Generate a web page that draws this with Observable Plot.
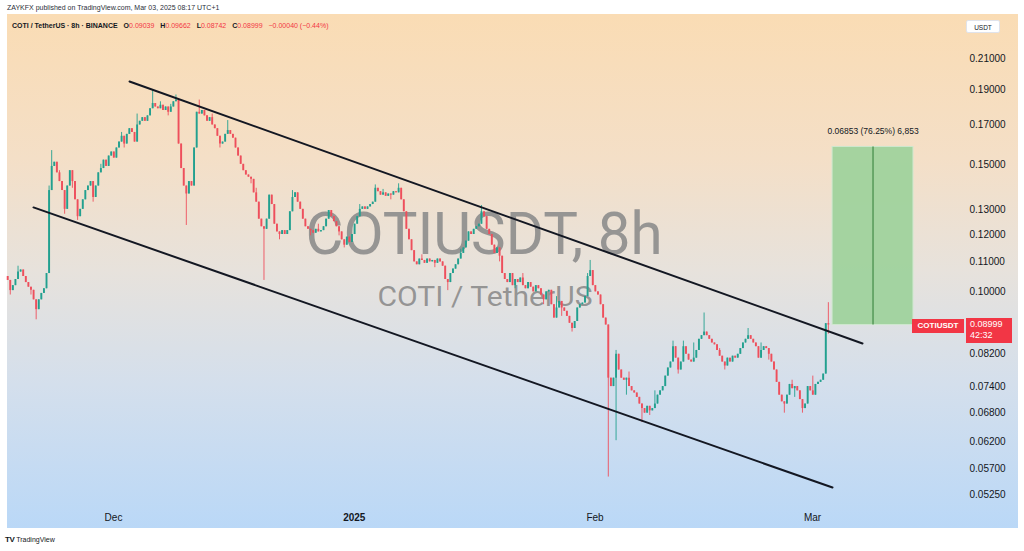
<!DOCTYPE html>
<html><head><meta charset="utf-8">
<script src="https://cdn.jsdelivr.net/npm/d3@7"></script>
<script src="https://cdn.jsdelivr.net/npm/@observablehq/plot@0.6"></script>
<style>
html,body{margin:0;padding:0;background:#fff;width:1024px;height:551px;overflow:hidden;font-family:"Liberation Sans",Arial,sans-serif;}
#wrap{position:relative;width:1024px;height:551px;}
#bg{position:absolute;left:7px;top:14px;width:1011px;height:514px;background:linear-gradient(to bottom,#fadcb4 0%,#f4dfc7 28%,#e7e2dc 50%,#d4dfec 72%,#bad8f7 100%);}
#chart{position:absolute;left:0;top:0;}
.hdr1{position:absolute;left:7px;top:4px;font-size:7px;color:#2a2e39;white-space:nowrap;}
.hdr2{position:absolute;left:12px;top:22px;font-size:7px;color:#131722;white-space:nowrap;font-weight:bold;}
.hdr2 .r{color:#f23645;font-weight:normal;}
.hdr2 .k{margin-left:4px;}
.tag{position:absolute;background:#f23645;color:#fff;font-size:8px;white-space:nowrap;}
.usdt{position:absolute;left:966px;top:20px;width:34px;height:13px;background:#fff;border:1px solid #e0e3eb;border-radius:2px;font-size:6.5px;color:#131722;text-align:center;line-height:13px;box-sizing:border-box;}
.logo{position:absolute;left:5px;top:535px;font-size:7px;color:#131722;white-space:nowrap;}
.logo b{font-size:8px;letter-spacing:-0.5px;margin-right:2px;}
</style></head>
<body><div id="wrap"><div id="bg"></div></div>
<script>
// ---- data (8h candles, COTI/USDT) ----
const firstOpen = 0.1050;
const closes = [
.1037,.1004,.1020,.1040,.1065,.1072,.1050,.1030,.1015,.1005,
.0975,.0945,.0975,.0995,.1010,.1060,.1380,.1490,.1510,.1460,
.1420,.1380,.1300,.1400,.1470,.1420,.1340,.1270,.1300,.1340,
.1380,.1400,.1420,.1350,.1400,.1460,.1480,.1520,.1490,.1540,
.1560,.1530,.1580,.1610,.1640,.1600,.1650,.1680,.1660,.1610,
.1700,.1720,.1740,.1720,.1750,.1790,.1820,.1800,.1790,.1810,
.1780,.1800,.1770,.1800,.1830,.1840,.1600,.1480,.1400,.1365,
.1420,.1400,.1580,.1770,.1760,.1780,.1750,.1720,.1740,.1700,
.1680,.1640,.1600,.1610,.1650,.1670,.1650,.1630,.1580,.1540,
.1500,.1470,.1450,.1440,.1430,.1370,.1330,.1260,.1230,.1220,
.1260,.1360,.1320,.1240,.1210,.1200,.1215,.1200,.1215,.1290,
.1350,.1370,.1330,.1300,.1260,.1230,.1220,.1215,.1205,.1220,
.1210,.1215,.1230,.1260,.1295,.1270,.1250,.1230,.1210,.1180,
.1160,.1190,.1170,.1200,.1240,.1270,.1300,.1310,.1300,.1310,
.1320,.1330,.1390,.1375,.1360,.1370,.1355,.1365,.1360,.1375,
.1370,.1390,.1340,.1290,.1220,.1180,.1140,.1100,.1090,.1110,
.1105,.1095,.1110,.1100,.1105,.1095,.1110,.1100,.1085,.1040,
.1030,.1060,.1075,.1090,.1110,.1130,.1150,.1175,.1210,.1200,
.1220,.1230,.1240,.1290,.1270,.1220,.1200,.1160,.1130,.1150,
.1120,.1060,.1040,.1030,.1060,.1020,.1040,.1030,.1045,.1020,
.1010,.1030,.1015,.1000,.1020,.1010,.0990,.0975,.1000,.1005,
.0960,.0920,.0950,.0970,.0950,.0940,.0925,.0905,.0890,.0910,
.0950,.0960,.0965,.0985,.1050,.1070,.1020,.1000,.0990,.0960,
.0920,.0900,.0760,.0740,.0760,.0820,.0780,.0760,.0755,.0760,
.0740,.0730,.0725,.0715,.0700,.0690,.0680,.0695,.0685,.0690,
.0700,.0720,.0730,.0740,.0765,.0785,.0800,.0840,.0810,.0780,
.0800,.0840,.0820,.0805,.0800,.0810,.0830,.0860,.0870,.0880,
.0870,.0860,.0850,.0845,.0830,.0815,.0800,.0790,.0810,.0800,
.0815,.0810,.0820,.0835,.0850,.0860,.0870,.0860,.0850,.0840,
.0810,.0830,.0840,.0835,.0820,.0800,.0780,.0750,.0720,.0705,
.0700,.0720,.0745,.0735,.0740,.0730,.0710,.0690,.0700,.0740,
.0730,.0720,.0745,.0750,.0755,.0770,.09039,.08999
];
// wick extremes: [candle index, price]
const wickHighs = [[4,.1085],[16,.1400],[17,.1567],[20,.1470],[36,.1500],[44,.1660],[50,.1760],[56,.1897],[59,.1830],[63,.1815],[65,.1870],[74,.1840],[79,.1760],[85,.1724],[96,.1390],[110,.1380],[120,.1240],[136,.1320],[142,.1405],[145,.1385],[151,.1410],[160,.1125],[175,.1145],[183,.1316],[199,.1060],[212,.0985],[224,.1060],[225,.1105],[235,.0830],[240,.0775],[250,.0730],[257,.0855],[261,.0855],[265,.0850],[269,.0935],[275,.0835],[286,.0890],[291,.0850],[303,.0755],[311,.0765],[317,.09662]];
const wickLows = [[1,.0990],[9,.0990],[11,.0915],[22,.1280],[25,.1390],[27,.1255],[33,.1330],[45,.1580],[62,.1750],[69,.1235],[82,.1580],[94,.1410],[99,.1037],[105,.1180],[117,.1195],[128,.1195],[130,.1150],[148,.1340],[165,.1080],[170,.1004],[190,.1100],[196,.1010],[207,.0960],[214,.0925],[218,.0880],[232,.0555],[235,.0623],[239,.0720],[245,.0660],[248,.0675],[259,.0770],[277,.0780],[294,.0805],[300,.0680],[304,.0715],[307,.0680],[317,.08742]];
const yTicks = [0.21,0.19,0.17,0.15,0.13,0.12,0.11,0.10,0.082,0.074,0.068,0.062,0.057,0.0525];
const monthTicks = [Date.UTC(2024,11,1),Date.UTC(2025,1,1),Date.UTC(2025,2,1)];
const yearTicks = [Date.UTC(2025,0,1)];
const upperLine = [{t:Date.UTC(2024,11,3,1,30),p:0.1952},{t:Date.UTC(2025,2,7,10,30),p:0.08487}];
const lowerLine = [{t:Date.UTC(2024,10,20,16,48),p:0.1308},{t:Date.UTC(2025,2,3,13,48),p:0.05368}];
const rangeBox = [{t1:Date.UTC(2025,2,3,14),t2:Date.UTC(2025,2,14,0),p1:0.08999,p2:0.15852}];
const rangeLabel = "0.06853 (76.25%) 6,853";
const lastPrice = 0.08999;

// ---- build ----
const step = 8*3600*1000;
const t0 = Date.UTC(2024,10,17,9);
const hiMap = new Map(wickHighs), loMap = new Map(wickLows);
const candles = closes.map((c,i)=>{
  const o = i===0 ? firstOpen : closes[i-1];
  const hi = hiMap.has(i) ? Math.max(hiMap.get(i),o,c) : Math.max(o,c);
  const lo = loMap.has(i) ? Math.min(loMap.get(i),o,c) : Math.min(o,c);
  return {t:new Date(t0+i*step), open:o, close:c, high:hi, low:lo, col: c>=o ? "#22a08f" : "#ee4f5c"};
});
const DAY = 864e5;
const xDomain = [new Date(Date.UTC(2024,11,1)-13.648*DAY), new Date(Date.UTC(2025,2,1)+19.313*DAY)];
const boxMid = new Date((rangeBox[0].t1+rangeBox[0].t2)/2);

const chart = Plot.plot({
  width:1024, height:551, marginLeft:7, marginRight:62, marginTop:14, marginBottom:46,
  style:{background:"transparent", fontFamily:"'Liberation Sans',Arial,sans-serif", color:"#131722"},
  x:{type:"utc", domain:xDomain, label:null},
  y:{type:"log", domain:[0.0507,0.24154], label:null},
  marks:[
    Plot.text(["COTIUSDT, 8h"], {frameAnchor:"top-left", dx:476.5, dy:239, text:d=>d, textAnchor:"middle", lineAnchor:"bottom", fontSize:60, fontFamily:"Roboto", fill:"#8a8a8a", fillOpacity:0.88}),
    Plot.text(["COTI / TetherUS"], {frameAnchor:"top-left", dx:477.5, dy:291, text:d=>d, textAnchor:"middle", lineAnchor:"bottom", fontSize:28, fontFamily:"Roboto", fill:"#8a8a8a", fillOpacity:0.88}),
    Plot.ruleX(candles, {x:"t", y1:"low", y2:"high", stroke:"col", strokeWidth:0.9}),
    Plot.ruleX(candles, {x:"t", y1:"open", y2:"close", stroke:"col", strokeWidth:1.9}),
    Plot.rect(rangeBox, {x1:d=>new Date(d.t1), x2:d=>new Date(d.t2), y1:"p1", y2:"p2", fill:"#9dd19b", fillOpacity:0.92, stroke:"#cfe8cf", strokeWidth:1}),
    Plot.ruleX([boxMid], {x:d=>d, y1:rangeBox[0].p1, y2:rangeBox[0].p2, stroke:"#2f7d34", strokeWidth:1}),
    Plot.text([rangeLabel], {x:boxMid, y:0.1665, text:d=>d, fontSize:8.5, fill:"#131722"}),
    Plot.line(upperLine, {x:d=>new Date(d.t), y:"p", stroke:"#131722", strokeWidth:2}),
    Plot.line(lowerLine, {x:d=>new Date(d.t), y:"p", stroke:"#131722", strokeWidth:2}),
    Plot.axisY(yTicks, {anchor:"right", tickSize:0, tickPadding:7, textAnchor:"start", tickFormat:d=>d.toFixed(5), fontSize:10, fill:"#131722", label:null}),
    Plot.axisX(monthTicks.map(d=>new Date(d)), {anchor:"bottom", tickSize:0, tickPadding:8, tickFormat:d3.utcFormat("%b"), fontSize:10, fill:"#131722", label:null}),
    Plot.axisX(yearTicks.map(d=>new Date(d)), {anchor:"bottom", tickSize:0, tickPadding:8, tickFormat:()=>"2025", fontSize:10, fontWeight:"bold", fill:"#131722", label:null})
  ]
});
chart.id = "chart";
document.getElementById("wrap").appendChild(chart);
// fit watermark widths
chart.querySelectorAll("text").forEach(el=>{
  if(el.textContent==="COTIUSDT, 8h"){el.setAttribute("textLength","357");el.setAttribute("lengthAdjust","spacingAndGlyphs");}
  if(el.textContent==="COTI / TetherUS"){el.setAttribute("textLength","215");el.setAttribute("lengthAdjust","spacingAndGlyphs");}
});

const wrap = document.getElementById("wrap");
const yPx = chart.scale("y").apply(lastPrice);
function add(html){const d=document.createElement("div");d.innerHTML=html;wrap.appendChild(d.firstElementChild);}
add(`<div class="hdr1">ZAYKFX published on TradingView.com, Mar 03, 2025 08:17 UTC+1</div>`);
add(`<div class="hdr2">COTI / TetherUS · 8h · BINANCE <span class="k">O</span><span class="r">0.09039</span> <span class="k">H</span><span class="r">0.09662</span> <span class="k">L</span><span class="r">0.08742</span> <span class="k">C</span><span class="r">0.08999</span> <span class="r" style="margin-left:4px">−0.00040 (−0.44%)</span></div>`);
add(`<div class="usdt">USDT</div>`);
add(`<div class="tag" style="left:912px;top:${yPx-6}px;width:52px;height:14px;line-height:14px;text-align:center;font-weight:bold;">COTIUSDT</div>`);
add(`<div class="tag" style="left:966px;top:${yPx-7}px;width:46px;height:25px;padding-left:4px;box-sizing:border-box;font-size:9px;line-height:11.5px;padding-top:1px;">${lastPrice.toFixed(5)}<br>42:32</div>`);
add(`<div class="logo"><b>TV</b>TradingView</div>`);
</script></body></html>
